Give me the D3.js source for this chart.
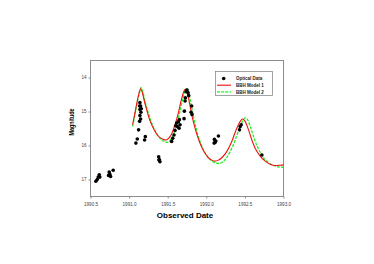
<!DOCTYPE html>
<html lang="en">
<head>
<meta charset="UTF-8">
<script src="https://d3js.org/d3.v7.min.js"></script>
<style>
  body { margin: 0; background: #fff; }
  text { font-family: "Liberation Sans", Arial, sans-serif; }
</style>
<title>BBH light curve</title>
</head>
<body>
<div id="chart"></div>
<script>
// optical observations: [year, magnitude]
const obsDates = [1990.569, 1990.587, 1990.600, 1990.613, 1990.621,
  1990.734, 1990.742, 1990.751, 1990.760, 1990.794,
  1991.088, 1991.106, 1991.123, 1991.140, 1991.149, 1991.140, 1991.153, 1991.140, 1991.149, 1991.136, 1991.158, 1991.136,
  1991.201, 1991.210,
  1991.383, 1991.391, 1991.400, 1991.387,
  1991.551, 1991.565, 1991.582, 1991.595, 1991.603, 1991.616, 1991.625, 1991.638, 1991.651, 1991.660, 1991.647,
  1991.712, 1991.716, 1991.725, 1991.729, 1991.738, 1991.751, 1991.764, 1991.772,
  1991.811, 1991.803, 1991.815,
  1992.105, 1992.114, 1992.101, 1992.123, 1992.157,
  1992.430, 1992.439, 1992.452,
  1992.720];
const obsMags = [17.05, 17.00, 16.93, 16.86, 16.93,
  16.88, 16.78, 16.85, 16.91, 16.73,
  15.93, 15.81, 15.54, 14.74, 14.84, 14.94, 15.02, 15.12, 15.22, 15.29, 14.92, 14.84,
  15.84, 15.74,
  16.33, 16.41, 16.48, 16.43,
  15.88, 15.79, 15.69, 15.56, 15.42, 15.34, 15.44, 15.30, 15.24, 15.39, 15.49,
  15.21, 14.99, 14.69, 14.60, 14.42, 14.37, 14.45, 14.53,
  14.84, 15.02, 15.09,
  15.82, 15.91, 15.93, 15.87, 15.72,
  15.54, 15.44, 15.39,
  16.28];

// BBH model 1
const m1Dates = [1991.045, 1991.076, 1991.106, 1991.132, 1991.149, 1991.166, 1991.192, 1991.227, 1991.270, 1991.314,
  1991.357, 1991.400, 1991.443, 1991.474, 1991.508, 1991.551, 1991.595, 1991.638, 1991.673, 1991.703,
  1991.725, 1991.746, 1991.777, 1991.811, 1991.854, 1991.898, 1991.941, 1991.984, 1992.027, 1992.071,
  1992.114, 1992.157, 1992.200, 1992.265, 1992.330, 1992.395, 1992.439, 1992.469, 1992.503, 1992.547,
  1992.590, 1992.633, 1992.698, 1992.763, 1992.828, 1992.893, 1992.958, 1993.000];
const m1Mags = [15.39, 15.04, 14.69, 14.43, 14.33, 14.40, 14.64, 14.94, 15.27, 15.49,
  15.66, 15.77, 15.82, 15.84, 15.80, 15.66, 15.39, 15.04, 14.69, 14.45,
  14.35, 14.40, 14.69, 15.09, 15.49, 15.81, 16.05, 16.23, 16.36, 16.43,
  16.46, 16.43, 16.36, 16.18, 15.88, 15.49, 15.29, 15.22, 15.29, 15.54,
  15.84, 16.08, 16.31, 16.46, 16.55, 16.59, 16.58, 16.57];

// BBH model 2
const m2Dates = [1991.045, 1991.080, 1991.114, 1991.140, 1991.153, 1991.175, 1991.205, 1991.249, 1991.292, 1991.335,
  1991.378, 1991.422, 1991.465, 1991.495, 1991.530, 1991.573, 1991.616, 1991.660, 1991.694, 1991.720,
  1991.742, 1991.764, 1991.790, 1991.824, 1991.867, 1991.911, 1991.954, 1992.006, 1992.058, 1992.114,
  1992.157, 1992.200, 1992.257, 1992.309, 1992.374, 1992.430, 1992.473, 1992.503, 1992.534, 1992.577,
  1992.620, 1992.677, 1992.733, 1992.793, 1992.862, 1992.936, 1993.000];
const m2Mags = [15.44, 15.04, 14.64, 14.40, 14.30, 14.40, 14.69, 15.04, 15.34, 15.56,
  15.72, 15.84, 15.89, 15.91, 15.86, 15.69, 15.39, 14.99, 14.64, 14.43,
  14.33, 14.40, 14.64, 15.04, 15.49, 15.84, 16.08, 16.30, 16.43, 16.51,
  16.53, 16.50, 16.38, 16.18, 15.84, 15.49, 15.27, 15.19, 15.24, 15.49,
  15.79, 16.11, 16.33, 16.48, 16.58, 16.63, 16.64];

const xTicks = [1990.5, 1991.0, 1991.5, 1992.0, 1992.5, 1993.0];
const yTicks = [14, 15, 16, 17];
const legendLabels = ["Optical Data", "BBH Model 1", "BBH Model 2"];

const w = 374, h = 264;
const padL = 90.5, padR = 283.5, padT = 60.5, padB = 196.5;

const svg = d3.select("#chart").append("svg")
  .attr("width", w)
  .attr("height", h);

const x = d3.scaleLinear().domain([1990.5, 1993.0]).range([padL, padR]);
const y = d3.scaleLinear().domain([13.5, 17.5]).range([padT, padB]);

// frame
svg.append("rect")
  .attr("x", padL).attr("y", padT)
  .attr("width", padR - padL).attr("height", padB - padT)
  .attr("fill", "none")
  .attr("stroke", "#8c8c8c")
  .attr("stroke-width", 1);

// axes
const xAxis = svg.append("g")
  .attr("transform", "translate(0," + padB + ")")
  .call(d3.axisBottom(x).tickValues(xTicks).tickFormat(d3.format(".1f")).tickSize(2).tickPadding(4));
const yAxis = svg.append("g")
  .attr("transform", "translate(" + padL + ",0)")
  .call(d3.axisLeft(y).tickValues(yTicks).tickFormat(d3.format("d")).tickSize(2).tickPadding(2));

[xAxis, yAxis].forEach(g => {
  g.select(".domain").remove();
  g.selectAll("line").attr("stroke", "#8c8c8c");
  g.selectAll("text")
    .attr("fill", "#444")
    .style("font-size", "4.6px")
    .style("font-family", "Liberation Sans, Arial, sans-serif");
});

// model curves
const line = d3.line()
  .x(d => x(d[0]))
  .y(d => y(d[1]))
  .curve(d3.curveMonotoneX);

svg.append("path")
  .datum(d3.zip(m2Dates, m2Mags))
  .attr("d", line)
  .attr("fill", "none")
  .attr("stroke", "#22ee22")
  .attr("stroke-width", 1.3)
  .attr("stroke-dasharray", "3,1.2");

svg.append("path")
  .datum(d3.zip(m1Dates, m1Mags))
  .attr("d", line)
  .attr("fill", "none")
  .attr("stroke", "#ee1111")
  .attr("stroke-width", 1.1);

// observations
svg.append("g")
  .selectAll("circle")
  .data(d3.zip(obsDates, obsMags))
  .join("circle")
  .attr("cx", d => x(d[0]))
  .attr("cy", d => y(d[1]))
  .attr("r", 1.8)
  .attr("fill", "#000");

// axis titles
svg.append("text")
  .text("Observed Date")
  .attr("x", 185)
  .attr("y", 218)
  .attr("text-anchor", "middle")
  .style("font-size", "8px")
  .style("font-weight", "bold");

svg.append("text")
  .text("Magnitude")
  .attr("transform", "translate(74,122) rotate(-90)")
  .attr("text-anchor", "middle")
  .attr("textLength", 27)
  .attr("lengthAdjust", "spacingAndGlyphs")
  .style("font-size", "7.5px")
  .style("font-weight", "bold");

// legend
const lg = svg.append("g");
lg.append("rect")
  .attr("x", 215.5).attr("y", 71.5)
  .attr("width", 57).attr("height", 24)
  .attr("fill", "#fff")
  .attr("stroke", "#8c8c8c")
  .attr("stroke-width", 0.8);

const rowY = [78.5, 85.2, 91.9];
lg.append("circle").attr("cx", 223.7).attr("cy", rowY[0]).attr("r", 1.8).attr("fill", "#000");
lg.append("line").attr("x1", 217).attr("x2", 231).attr("y1", rowY[1]).attr("y2", rowY[1])
  .attr("stroke", "#ee1111").attr("stroke-width", 1.1);
lg.append("line").attr("x1", 217).attr("x2", 231).attr("y1", rowY[2]).attr("y2", rowY[2])
  .attr("stroke", "#22ee22").attr("stroke-width", 1.2).attr("stroke-dasharray", "3,1.2");

lg.selectAll("text.lab")
  .data(legendLabels)
  .join("text")
  .attr("class", "lab")
  .attr("x", 236)
  .attr("y", (d, i) => rowY[i] + 1.6)
  .text(d => d)
  .style("font-size", "4.5px")
  .style("font-weight", "bold")
  .attr("fill", "#222");
</script>
</body>
</html>
